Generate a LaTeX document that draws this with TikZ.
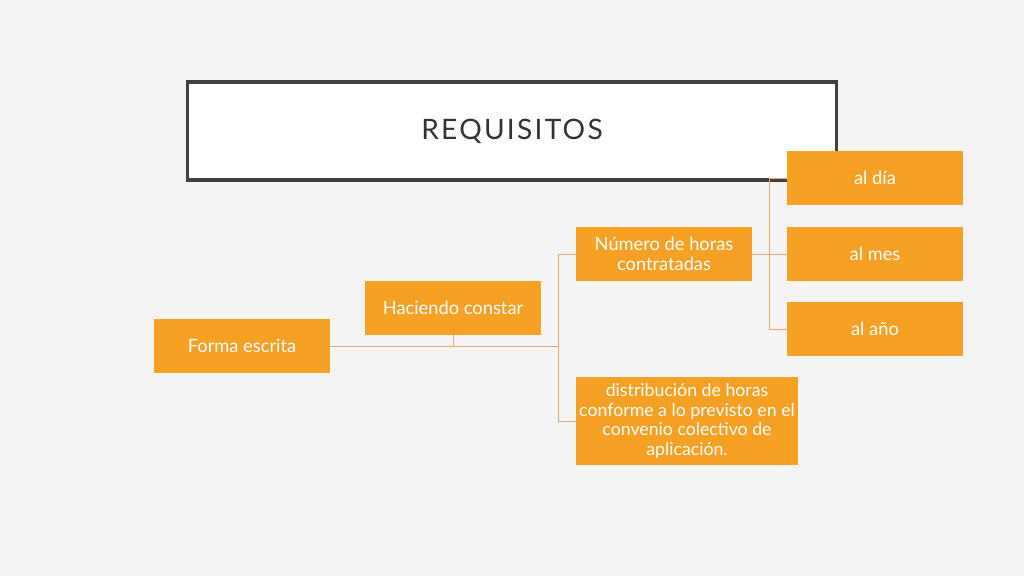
\documentclass[tikz,border=0pt]{standalone}
\usepackage{fontspec}
\setmainfont{Lato}
\definecolor{fondo}{RGB}{244,244,244}
\definecolor{naranja}{RGB}{246,160,36}
\definecolor{linea}{RGB}{222,172,112}
\definecolor{marco}{RGB}{64,64,64}
\tikzset{
  caja/.style={fill=naranja,text=white,minimum width=4.4cm,minimum height=1.35cm,inner sep=1pt,align=center,font=\fontsize{13}{14.5}\selectfont},
  conector/.style={draw=linea,line width=0.7pt}
}
\begin{document}
\begin{tikzpicture}[x=0.025cm,y=-0.025cm]
      %fondo
      \fill[fondo] (0,0) rectangle (1024,576);
      %titolo
      \node[draw=marco,line width=2.2pt,fill=white,minimum width=16.2cm,minimum height=2.45cm,font=\fontsize{20}{22}\selectfont,text=black!80] (titulo) at (512,131) {\addfontfeature{LetterSpace=8}REQUISITOS};
      %caselle
      \node[caja] (forma) at (242,346) {Forma escrita};
      \node[caja] (hacer) at (453,308) {Haciendo constar};
      \node[caja] (numero) at (664,254) {Número de horas\\contratadas};
      \node[caja,inner sep=0pt,minimum width=5.55cm,minimum height=2.175cm,font=\fontsize{12.6}{14.2}\selectfont] (distrib) at (687,421) {distribución de horas\\conforme a lo previsto en el\\convenio colectivo de\\aplicación.};
      \node[caja] (dia) at (875,178) {al día};
      \node[caja] (mes) at (875,254) {al mes};
      \node[caja] (anio) at (875,329) {al año};
      %collegamenti
      \coordinate (nodo1) at (558,346);
      \coordinate (nodo2) at (769,254);
      \draw[conector] (forma.east) -- (nodo1);
      \draw[conector] (hacer.south) -- (hacer.south |- forma.east);
      \draw[conector] (nodo1) |- (numero.west);
      \draw[conector] (nodo1) |- (distrib.west);
      \draw[conector] (numero.east) -- (mes.west);
      \draw[conector] (nodo2) |- (dia.west);
      \draw[conector] (nodo2) |- (anio.west);
   \end{tikzpicture}
\end{document}
